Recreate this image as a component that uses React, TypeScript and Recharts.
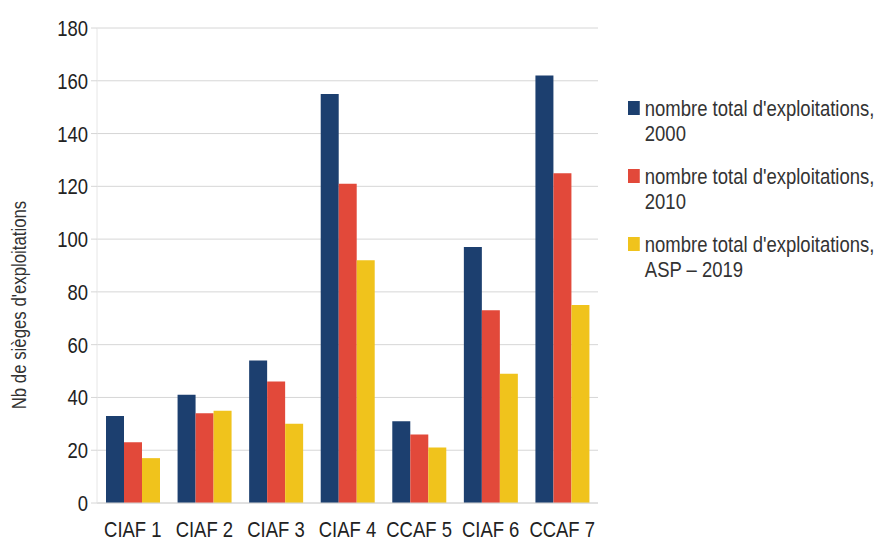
import React from "react";
import {
	BarChart,
	Bar,
	XAxis,
	YAxis,
	CartesianGrid,
	Label,
} from "recharts";

const categories = [
	"CIAF 1",
	"CIAF 2",
	"CIAF 3",
	"CIAF 4",
	"CCAF 5",
	"CIAF 6",
	"CCAF 7",
];
const total2000 = [33, 41, 54, 155, 31, 97, 162];
const total2010 = [23, 34, 46, 121, 26, 73, 125];
const totalAsp2019 = [17, 35, 30, 92, 21, 49, 75];
const yTicks = [0, 20, 40, 60, 80, 100, 120, 140, 160, 180];

const series = [
	{ key: "y2000", color: "#1c3f6f", label: ["nombre total d'exploitations,", "2000"] },
	{ key: "y2010", color: "#e2493a", label: ["nombre total d'exploitations,", "2010"] },
	{ key: "asp2019", color: "#f0c31c", label: ["nombre total d'exploitations,", "ASP – 2019"] },
];

const data = categories.map((name, i) => ({
	name,
	y2000: total2000[i],
	y2010: total2010[i],
	asp2019: totalAsp2019[i],
}));

const font = "'Liberation Sans', Arial, sans-serif";
// squeeze glyphs horizontally to get a narrow face
const narrow = 0.84;

function XTick(props: { x?: number; y?: number; payload?: { value?: string } }) {
	const { x = 0, y = 0, payload } = props;
	return (
		<text
			transform={`translate(${x},${y}) scale(${narrow},1)`}
			dy={20}
			textAnchor="middle"
			fontSize={22}
			fill="#222"
			fontFamily={font}
		>
			{payload?.value}
		</text>
	);
}

function YTick(props: { x?: number; y?: number; payload?: { value?: number } }) {
	const { x = 0, y = 0, payload } = props;
	return (
		<text
			transform={`translate(${x},${y}) scale(${narrow},1)`}
			dy={8}
			textAnchor="end"
			fontSize={22}
			fill="#222"
			fontFamily={font}
		>
			{payload?.value}
		</text>
	);
}

function LegendBlock() {
	return (
		<div
			style={{
				position: "absolute",
				left: 628,
				top: 96,
				width: 320,
				fontFamily: font,
				fontSize: 22,
				color: "#333",
				lineHeight: "25px",
				transform: `scale(${narrow},1)`,
				transformOrigin: "0 0",
				whiteSpace: "nowrap",
			}}
		>
			{series.map((s) => (
				<div key={s.key} style={{ position: "relative", paddingLeft: 20, marginBottom: 18 }}>
					<span
						style={{
							position: "absolute",
							left: 0,
							top: 5,
							width: 14,
							height: 14,
							background: s.color,
						}}
					/>
					<div>{s.label[0]}</div>
					<div>{s.label[1]}</div>
				</div>
			))}
		</div>
	);
}

export default function App() {
	return (
		<div
			style={{
				position: "absolute",
				left: 0,
				top: 0,
				width: 883,
				height: 542,
				background: "#fff",
			}}
		>
			<BarChart
				width={883}
				height={542}
				data={data}
				margin={{ top: 28, right: 285, bottom: 0, left: 0 }}
				barCategoryGap={9}
				barGap={0}
				style={{ fontFamily: font }}
			>
				<CartesianGrid vertical={false} stroke="#d6d6d6" />
				<XAxis
					dataKey="name"
					height={39}
					tickLine={false}
					axisLine={{ stroke: "#d6d6d6" }}
					tick={<XTick />}
					tickMargin={8}
					interval={0}
				/>
				<YAxis
					width={97}
					domain={[0, 180]}
					ticks={yTicks}
					interval={0}
					tickSize={6}
					tickMargin={3}
					tickLine={{ stroke: "#d6d6d6" }}
					axisLine={{ stroke: "#e6e6e6" }}
					tick={<YTick />}
				>
					<Label
						content={() => (
							<text
								transform={`translate(26,305) rotate(-90) scale(${narrow},1)`}
								textAnchor="middle"
								fontSize={20}
								fill="#333"
								fontFamily={font}
							>
								Nb de sièges d'exploitations
							</text>
						)}
					/>
				</YAxis>
				{series.map((s) => (
					<Bar key={s.key} dataKey={s.key} fill={s.color} isAnimationActive={false} />
				))}
			</BarChart>
			<LegendBlock />
		</div>
	);
}
